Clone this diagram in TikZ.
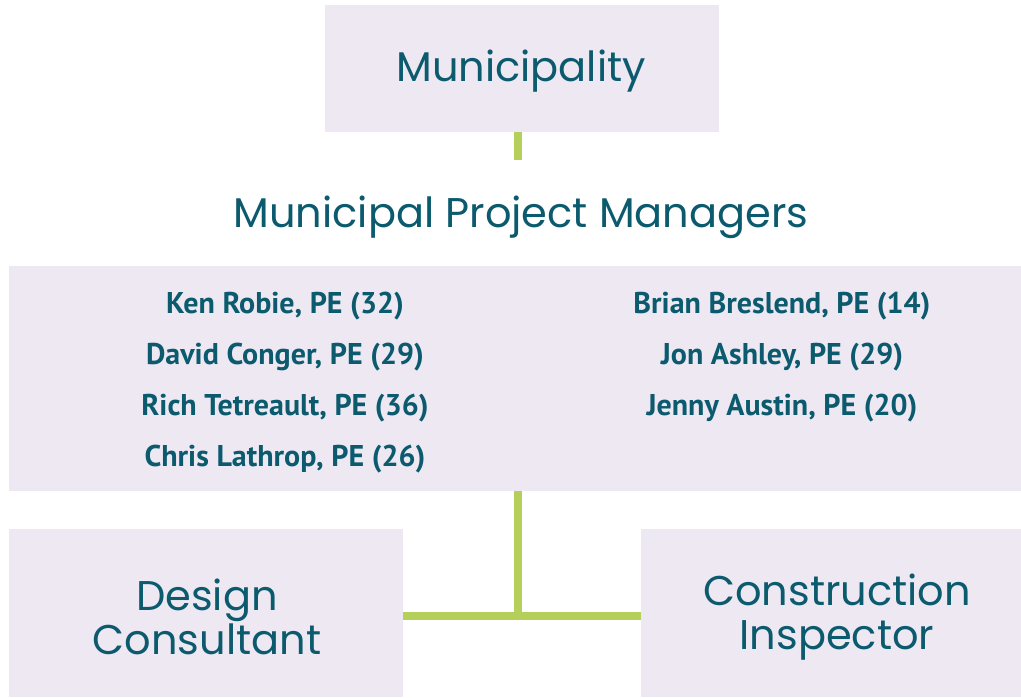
\documentclass[tikz,border=0pt]{standalone}
\usepackage{fontspec}
\setmainfont{Poppins}
\newfontfamily\namefont{PT Sans}
\definecolor{boxfill}{HTML}{EEE8F3}
\definecolor{txt}{HTML}{0B5A6D}
\definecolor{link}{HTML}{B5D05A}
\begin{document}
\begin{tikzpicture}[x=1pt,y=-1pt,
  box/.style={fill=boxfill,draw=none,inner sep=0pt,anchor=north west},
  bigtext/.style={text=txt,font=\fontsize{41.5}{44}\selectfont,align=center,inner sep=0pt},
  nametext/.style={text=txt,font=\namefont\bfseries\fontsize{30}{30}\selectfont,inner sep=0pt,anchor=center},
  conn/.style={draw=link,line width=8pt}]
\useasboundingbox (0,0) rectangle (1021,697);
% boxes
\node[box,minimum width=394pt,minimum height=127pt] (mun) at (325,5) {};
\node[box,minimum width=1012pt,minimum height=225pt] (pm) at (9,266) {};
\node[box,minimum width=394pt,minimum height=168pt] (dc) at (9,529) {};
\node[box,minimum width=380pt,minimum height=168pt] (ci) at (641,529) {};
% texts
\node[bigtext] (muntxt) at (521,71) {Municipality};
\node[bigtext] (pmtxt) at (521,217) {Municipal Project Managers};
\node[bigtext] (dctxt) at (207,617) {Design\\Consultant};
\node[bigtext] (citxt) at (837,617) {Construction\\Inspector};
% names
\node[nametext] (n1) at (285,306) {Ken Robie, PE (32)};
\node[nametext] (n2) at (285,357) {David Conger, PE (29)};
\node[nametext] (n3) at (285,408) {Rich Tetreault, PE (36)};
\node[nametext] (n4) at (285,459) {Chris Lathrop, PE (26)};
\node[nametext] (n5) at (782,306) {Brian Breslend, PE (14)};
\node[nametext] (n6) at (782,357) {Jon Ashley, PE (29)};
\node[nametext] (n7) at (782,408) {Jenny Austin, PE (20)};
% connectors
\coordinate (mend) at (518,160);
\coordinate (junc) at (518,615.5);
\draw[conn] (mun.south -| mend) -- (mend);
\draw[conn] (pm.south -| junc) -- ([yshift=4pt]junc);
\draw[conn] (dc.east |- junc) -- (ci.west |- junc);
\end{tikzpicture}
\end{document}
